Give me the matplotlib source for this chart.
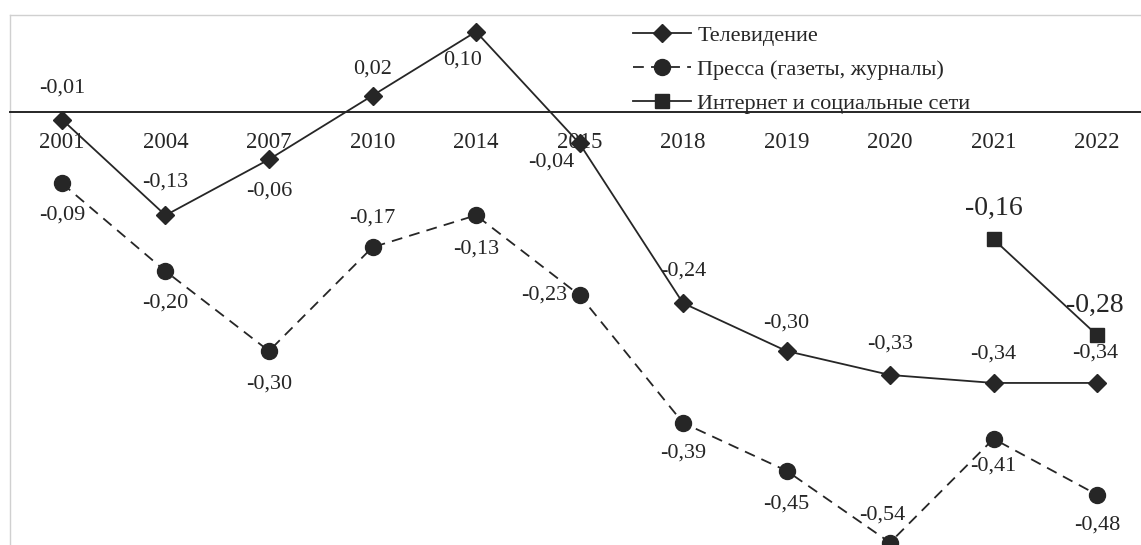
import matplotlib
matplotlib.use("Agg")
import matplotlib.pyplot as plt

plt.rcParams['font.family'] = ['Liberation Serif', 'DejaVu Serif']

years = ['2001', '2004', '2007', '2010', '2014', '2015', '2018', '2019', '2020', '2021', '2022']
tv = [-0.01, -0.13, -0.06, 0.02, 0.10, -0.04, -0.24, -0.30, -0.33, -0.34, -0.34]
press = [-0.09, -0.20, -0.30, -0.17, -0.13, -0.23, -0.39, -0.45, -0.54, -0.41, -0.48]
internet_years = ['2021', '2022']
internet = [-0.16, -0.28]

labels = ['Телевидение', 'Пресса (газеты, журналы)', 'Интернет и социальные сети']

# label offsets in pixels (dx, dy)
tv_off = [(0, 31), (0, 33), (0, -32), (0, 27), (-13, -28), (-28, -19),
          (0, 32), (0, 28), (0, 31), (0, 29), (-2, 30)]
press_off = [(0, -32), (0, -32), (0, -33), (0, 29), (0, -34), (-35, 0),
             (0, -30), (0, -33), (-8, 28), (0, -27), (0, -30)]
inet_off = [(0, 31), (-2, 30)]

col = '#262626'


def fmt(v):
    return f"{v:.2f}".replace('.', ',')


fig = plt.figure(figsize=(11.41, 5.45), dpi=100)
ax = fig.add_axes([0, 0, 1, 1])

x = list(range(len(years)))
xi = [years.index(y) for y in internet_years]

l1, = ax.plot(x, tv, color=col, lw=1.3, marker='D', ms=9.5, mfc=col, mec=col)
l2, = ax.plot(x, press, color=col, lw=1.3, ls=(0, (6, 4)), marker='o', ms=11.5,
              mfc=col, mec=col)
l3, = ax.plot(xi, internet, color=col, lw=1.3, marker='s', ms=9.5, mfc=col, mec=col)

for xs, ys, offs, fs in [(x, tv, tv_off, 16), (x, press, press_off, 16),
                         (xi, internet, inet_off, 20)]:
    for xv, yv, (dx, dy) in zip(xs, ys, offs):
        ax.annotate(fmt(yv), (xv, yv), xytext=(dx, dy), textcoords='offset pixels',
                    ha='center', va='center', fontsize=fs, color=col)

ax.set_xlim(-0.599, 10.425)
ax.set_ylim(-0.543, 0.1397)

for s in ['top', 'right', 'left']:
    ax.spines[s].set_visible(False)
ax.spines['bottom'].set_position(('data', 0))
ax.spines['bottom'].set_bounds(-0.5, 10.5)
ax.spines['bottom'].set_color(col)
ax.spines['bottom'].set_linewidth(1.4)
ax.set_yticks([])
ax.set_xticks(x)
ax.set_xticklabels(years, fontsize=16.5, color=col)
ax.tick_params(axis='x', length=0, pad=15)

# plot area border (top and left edges visible)
ax.plot([-0.502, 10.5], [0.121, 0.121], color='#d0d0d0', lw=1)
ax.plot([-0.502, -0.502], [0.121, -0.6], color='#d0d0d0', lw=1, clip_on=True)

ax.legend([l1, l2, l3], labels, loc='upper left', bbox_to_anchor=(0.547, 0.9705),
          frameon=False, fontsize=16, handlelength=2.6, handletextpad=0.3,
          labelspacing=0.62, borderaxespad=0, labelcolor=col)

fig.savefig('out.png', dpi=100)
